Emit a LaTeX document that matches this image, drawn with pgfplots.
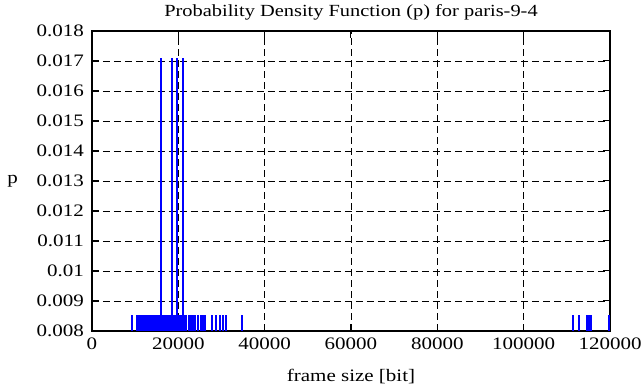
\documentclass[border=0pt]{standalone}
\usepackage{pgfplots}
\pgfplotsset{compat=1.18}
\usepackage{fontspec}
\setmainfont[FakeStretch=1.2]{Liberation Serif}
\begin{document}
\fontsize{17.5}{20}\selectfont
\begin{tikzpicture}
\begin{axis}[
  at={(0,0)}, anchor=south west,
  scale only axis,
  width=518pt, height=300pt,
  xmin=0, xmax=120000, ymin=0.008, ymax=0.018,
  xtick={0,20000,40000,60000,80000,100000,120000},
  ytick={0.008,0.009,0.010,0.011,0.012,0.013,0.014,0.015,0.016,0.017,0.018},
  scaled x ticks=false, scaled y ticks=false,
  /pgf/number format/assume math mode=true,
  /pgf/number format/1000 sep={},
  /pgf/number format/fixed,
  /pgf/number format/precision=3,
  xmajorgrids, ymajorgrids,
  major grid style={black, line width=0.8pt, dash pattern=on 7pt off 4pt},
  tick align=inside, tick pos=both,
  major tick length=7pt,
  tick style={black, line width=1pt},
  axis line style={black, line width=1.8pt},
  title={\fontsize{17}{20}\selectfont Probability Density Function (p) for paris-9-4},
  title style={yshift=-1pt},
  xlabel={frame size [bit]},
  ylabel={p},
  ylabel style={rotate=-90},
  ylabel shift=7pt,
  xlabel shift=7pt,
  xticklabel style={yshift=-1pt},
  yticklabel style={xshift=-2pt},
]
\addplot[ycomb, blue, line width=2pt, mark=none] coordinates {
(9270,0.008547) (10310,0.008547)
(10890,0.008547) (11020,0.008547) (11150,0.008547) (11300,0.008547) (11420,0.008547)
(11560,0.008547) (11700,0.008547) (11830,0.008547) (11960,0.008547) (12100,0.008547)
(12230,0.008547) (12370,0.008547) (12500,0.008547) (12640,0.008547) (12770,0.008547)
(12900,0.008547) (13040,0.008547) (13180,0.008547) (13310,0.008547) (13450,0.008547)
(13580,0.008547) (13720,0.008547) (13850,0.008547) (13990,0.008547) (14120,0.008547)
(14260,0.008547) (14390,0.008547) (14530,0.008547) (14660,0.008547) (14800,0.008547)
(14930,0.008547) (15070,0.008547) (15200,0.008547) (15340,0.008547) (15470,0.008547)
(15610,0.008547) (15740,0.008547) (16050,0.008547) (16190,0.008547) (16320,0.008547)
(16460,0.008547) (16590,0.008547) (16730,0.008547) (16860,0.008547) (17000,0.008547)
(17130,0.008547) (17270,0.008547) (17400,0.008547) (17540,0.008547) (17670,0.008547)
(17810,0.008547) (17940,0.008547) (18080,0.008547) (18210,0.008547) (18350,0.008547)
(18680,0.008547) (18820,0.008547) (18950,0.008547) (19090,0.008547) (19220,0.008547)
(19360,0.008547) (19500,0.008547) (19830,0.008547) (19970,0.008547) (20100,0.008547)
(20240,0.008547) (20370,0.008547) (20510,0.008547) (20640,0.008547) (20780,0.008547)
(20910,0.008547) (21150,0.008547)
(21310,0.008547) (21780,0.008547) (22400,0.008547) (22870,0.008547) (23400,0.008547)
(23860,0.008547) (24560,0.008547) (25180,0.008547) (25720,0.008547) (26180,0.008547)
(27800,0.008547) (28730,0.008547) (29540,0.008547) (30300,0.008547) (31000,0.008547)
(34750,0.008547)
(111430,0.008547) (112820,0.008547) (114670,0.008547) (115140,0.008547) (115600,0.008547)
(119660,0.008547)
};
\addplot[ycomb, blue, line width=2pt, mark=none] coordinates {
(15915,0.017094) (18533,0.017094) (19691,0.017094) (21012,0.017094)
};
\end{axis}
\pgfresetboundingbox
\useasboundingbox (-92pt,-56pt) rectangle (549pt,331pt);
\end{tikzpicture}
\end{document}
